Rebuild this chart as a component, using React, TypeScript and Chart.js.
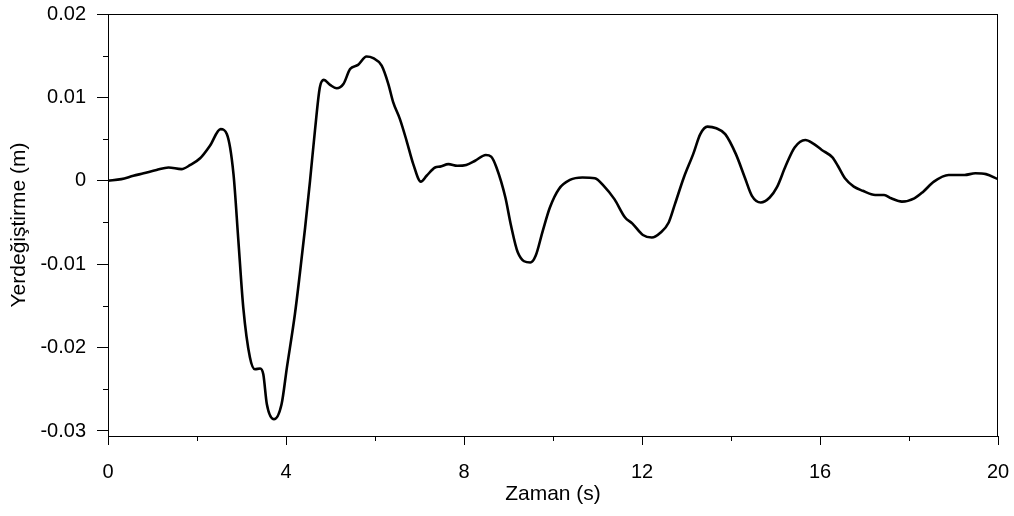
import React, { useEffect, useRef } from "react";
import { Chart, registerables } from "chart.js";

Chart.register(...registerables);

const timeS = [
  0, 0.3, 0.57, 0.8, 1.09, 1.36, 1.65, 1.85, 2.07, 2.29, 2.53, 2.67, 2.82, 2.93,
  3.04, 3.19, 3.3, 3.42, 3.49, 3.57, 3.73, 3.9, 4.02, 4.2, 4.31, 4.43, 4.54, 4.65,
  4.76, 4.85, 4.99, 5.14, 5.29, 5.44, 5.62, 5.81, 5.96, 6.15, 6.3, 6.41, 6.56,
  6.71, 6.86, 7.03, 7.16, 7.35, 7.46, 7.65, 7.85, 8.05, 8.25, 8.49, 8.61, 8.73,
  8.93, 9.05, 9.21, 9.49, 9.61, 9.77, 9.93, 10.13, 10.38, 10.66, 10.94, 11.14,
  11.38, 11.62, 11.78, 12.02, 12.22, 12.42, 12.6, 12.74, 12.94, 13.15, 13.31,
  13.47, 13.67, 13.87, 14.11, 14.31, 14.47, 14.67, 14.87, 15.03, 15.23, 15.43,
  15.67, 15.84, 16.04, 16.28, 16.4, 16.56, 16.76, 16.96, 17.24, 17.44, 17.6,
  17.84, 18.12, 18.32, 18.56, 18.89, 19.25, 19.49, 19.73, 20.0,
];

const dispM = [
  0, 0.0002, 0.0006, 0.0009, 0.0013, 0.0016, 0.0014, 0.0019, 0.0027, 0.0042,
  0.0062, 0.0056, 0.0008, -0.0072, -0.0152, -0.0212, -0.0226, -0.0225, -0.0232,
  -0.0268, -0.0286, -0.0268, -0.0224, -0.016, -0.0112, -0.0056, 0, 0.006,
  0.0112, 0.0121, 0.0115, 0.0111, 0.0116, 0.0134, 0.0139, 0.0149, 0.0147,
  0.0138, 0.0116, 0.0094, 0.0074, 0.0048, 0.002, -0.0001, 0.0006, 0.0016,
  0.0017, 0.002, 0.0018, 0.0019, 0.0024, 0.0031, 0.0029, 0.0016, -0.002,
  -0.0052, -0.0086, -0.0098, -0.009, -0.006, -0.0032, -0.001, 0.0001, 0.0004,
  0.0003, -0.0006, -0.0022, -0.0044, -0.0051, -0.0065, -0.0068, -0.0062,
  -0.005, -0.0028, 0.0004, 0.0032, 0.0056, 0.0065, 0.0063, 0.0056, 0.0032,
  0.0004, -0.0018, -0.0026, -0.002, -0.0008, 0.0018, 0.004, 0.0049, 0.0045,
  0.0037, 0.0028, 0.0018, 0.0003, -0.0007, -0.0012, -0.0017, -0.0017, -0.0021,
  -0.0025, -0.0021, -0.0013, -0.0001, 0.0007, 0.0007, 0.0009, 0.0008, 0.0002,
];

const xMajorTicks = [0, 4, 8, 12, 16, 20];
const xTickLabels = ["0", "4", "8", "12", "16", "20"];
const xMinorTicks = [2, 6, 10, 14, 18];
const yMajorTicks = [-0.03, -0.02, -0.01, 0, 0.01, 0.02];
const yTickLabels = ["-0.03", "-0.02", "-0.01", "0", "0.01", "0.02"];
const yMinorTicks = [-0.025, -0.015, -0.005, 0.005, 0.015];

const FONT = "'Liberation Sans', Arial, sans-serif";

const framePlugin = {
  id: "frameAndMinorTicks",
  afterDraw(chart: any) {
    const { ctx, chartArea, scales } = chart;
    const { left, right, top, bottom } = chartArea;
    const xs = scales.x;
    const ys = scales.y;
    ctx.save();
    ctx.strokeStyle = "#000";
    ctx.lineWidth = 1;
    ctx.beginPath();
    ctx.moveTo(left, Math.round(top) + 0.5);
    ctx.lineTo(right, Math.round(top) + 0.5);
    ctx.moveTo(Math.round(right) - 0.5, top);
    ctx.lineTo(Math.round(right) - 0.5, bottom);
    for (const v of xMinorTicks) {
      const px = Math.round(xs.getPixelForValue(v)) + 0.5;
      ctx.moveTo(px, bottom);
      ctx.lineTo(px, bottom + 5);
    }
    for (const v of yMinorTicks) {
      const py = Math.round(ys.getPixelForValue(v)) + 0.5;
      ctx.moveTo(left, py);
      ctx.lineTo(left - 5, py);
    }
    ctx.stroke();
    ctx.restore();
  },
};

function zeroPad(scale: any) {
  scale.paddingTop = 0;
  scale.paddingBottom = 0;
  scale.paddingLeft = 0;
  scale.paddingRight = 0;
}

export default function App() {
  const ref = useRef<HTMLCanvasElement | null>(null);

  useEffect(() => {
    if (!ref.current) return;
    const chart = new Chart(ref.current, {
      type: "line",
      data: {
        datasets: [
          {
            data: timeS.map((t, i) => ({ x: t, y: dispM[i] })),
            borderColor: "#000",
            borderWidth: 2.6,
            pointRadius: 0,
            fill: false,
            cubicInterpolationMode: "monotone",
          },
        ],
      },
      options: {
        animation: false,
        responsive: false,
        maintainAspectRatio: false,
        layout: { padding: { top: 14, right: 16, bottom: 0, left: 0 } },
        plugins: { legend: { display: false }, tooltip: { enabled: false } },
        scales: {
          x: {
            type: "linear",
            min: 0,
            max: 20,
            afterBuildTicks: (scale: any) => {
              scale.ticks = xMajorTicks.map((value) => ({ value }));
            },
            afterFit: (scale: any) => {
              scale.height = 80;
              zeroPad(scale);
            },
            ticks: {
              color: "#000",
              font: { family: FONT, size: 20 },
              padding: 15,
              maxRotation: 0,
              autoSkip: false,
              callback: (_v: any, i: number) => xTickLabels[i],
            },
            grid: {
              display: true,
              drawOnChartArea: false,
              drawTicks: true,
              tickLength: 9,
              color: "#000",
            },
            border: { display: true, color: "#000", width: 1 },
            title: {
              display: true,
              text: "Zaman (s)",
              color: "#000",
              font: { family: FONT, size: 21 },
              padding: { top: 0, bottom: 9 },
            },
          },
          y: {
            type: "linear",
            min: -0.0306,
            max: 0.02,
            afterBuildTicks: (scale: any) => {
              scale.ticks = yMajorTicks.map((value) => ({ value }));
            },
            afterFit: (scale: any) => {
              scale.width = 108;
              zeroPad(scale);
            },
            ticks: {
              color: "#000",
              font: { family: FONT, size: 20 },
              padding: 11,
              autoSkip: false,
              callback: (_v: any, i: number) => yTickLabels[i],
            },
            grid: {
              display: true,
              drawOnChartArea: false,
              drawTicks: true,
              tickLength: 11,
              color: "#000",
            },
            border: { display: true, color: "#000", width: 1 },
            title: {
              display: true,
              text: "Yerdeğiştirme (m)",
              color: "#000",
              font: { family: FONT, size: 21 },
              padding: { top: 7, bottom: 0 },
            },
          },
        },
      },
      plugins: [framePlugin],
    });
    return () => chart.destroy();
  }, []);

  return (
    <canvas
      ref={ref}
      width={1014}
      height={516}
      style={{ position: "absolute", left: 0, top: 0, width: 1014, height: 516 }}
    />
  );
}
